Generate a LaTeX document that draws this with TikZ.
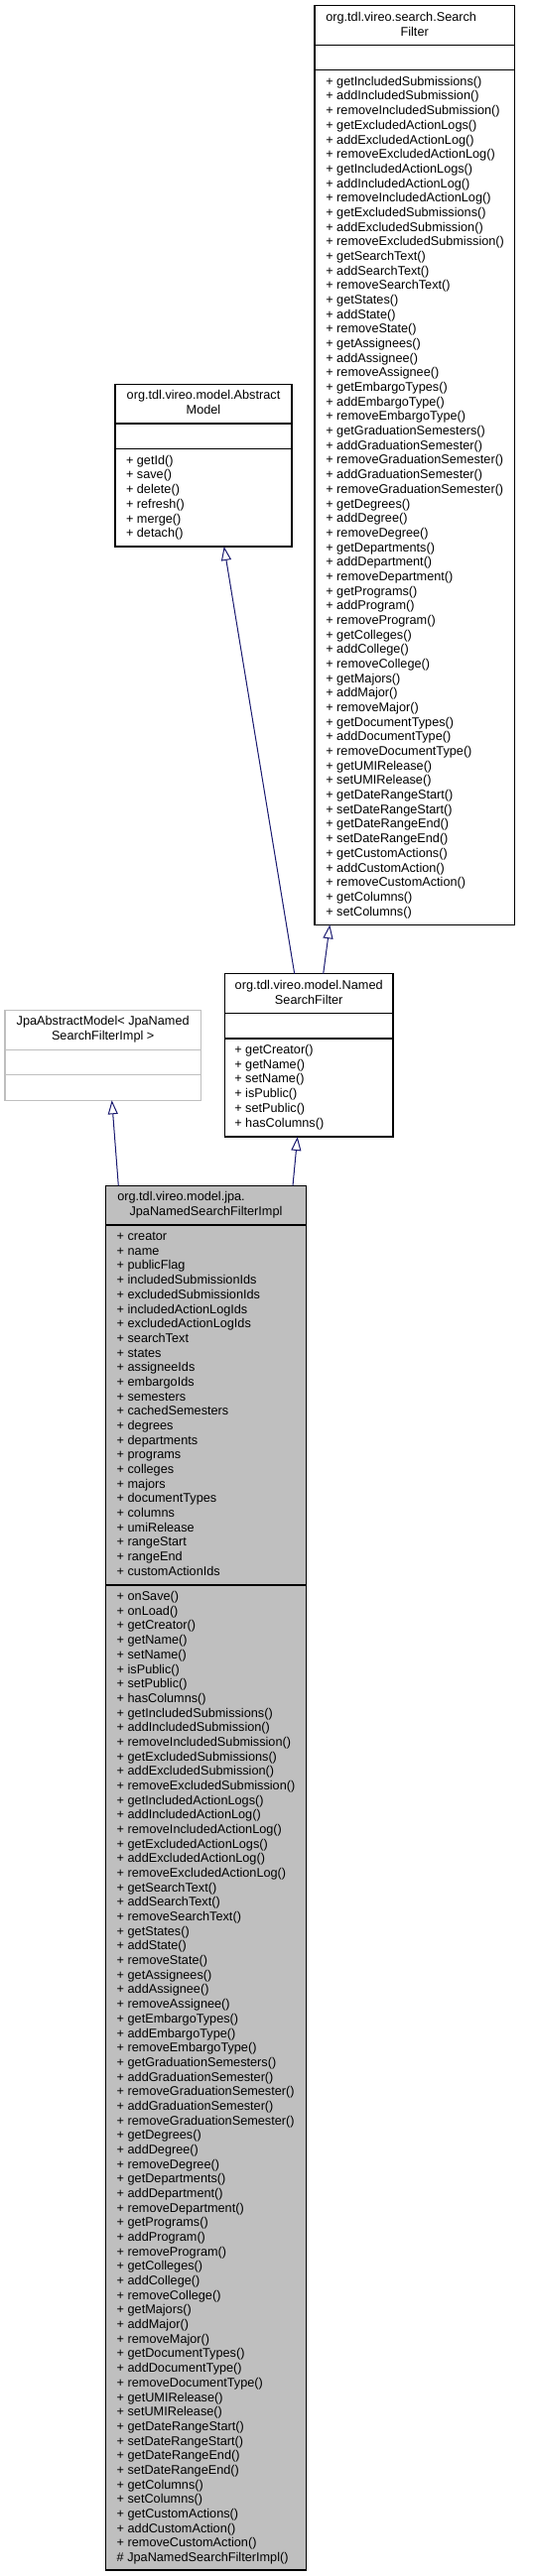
\documentclass[tikz,border=0pt]{standalone}
\usepackage{fontspec}
\setmainfont{Liberation Sans}
\usetikzlibrary{arrows.meta}
\definecolor{edgeblue}{HTML}{191970}
\definecolor{implgray}{HTML}{BFBFBF}
\definecolor{lightframe}{HTML}{BFBFBF}
\begin{document}
\begin{tikzpicture}[x=1pt,y=-1pt,
  font=\fontsize{12.7}{14.68}\selectfont,
  box/.style={draw=black,line width=1.2pt,inner sep=0pt,outer sep=0pt},
  greybox/.style={draw=lightframe,line width=1.2pt,inner sep=0pt,outer sep=0pt},
  sepline/.style={draw=black,line width=1.2pt},
  greysep/.style={draw=lightframe,line width=1.2pt},
  txt/.style={anchor=base west,inner sep=0pt,outer sep=0pt},
  ttl/.style={anchor=base,inner sep=0pt,outer sep=0pt},
  inh/.style={draw=edgeblue,line width=1pt,-{Triangle[open,length=14pt,width=10pt]}}]
\useasboundingbox (0,0) rectangle (537,2597);
\fill[white] (0,0) rectangle (537,2597);

% ---------- boxes ----------
\node[box,minimum width=201.3pt,minimum height=926.6pt] (sf) at (417.65,469) {};
\node[box,minimum width=178pt,minimum height=163.7pt] (am) at (205,469.15) {};
\node[box,minimum width=169.7pt,minimum height=164.3pt] (nsf) at (311.15,1063.85) {};
\node[greybox,minimum width=197.3pt,minimum height=91pt] (jam) at (103.65,1063.8) {};
\node[box,fill=implgray,minimum width=201.6pt,minimum height=1395.7pt] (impl) at (207.5,1893.15) {};

% ---------- separators ----------
\draw[sepline] (sf.west |- 0,45.7) -- (sf.east |- 0,45.7);
\draw[sepline] (sf.west |- 0,70.7) -- (sf.east |- 0,70.7);
\draw[sepline] (am.west |- 0,427) -- (am.east |- 0,427);
\draw[sepline] (am.west |- 0,452.7) -- (am.east |- 0,452.7);
\draw[sepline] (nsf.west |- 0,1021.7) -- (nsf.east |- 0,1021.7);
\draw[sepline] (nsf.west |- 0,1047) -- (nsf.east |- 0,1047);
\draw[greysep] (jam.west |- 0,1058.3) -- (jam.east |- 0,1058.3);
\draw[greysep] (jam.west |- 0,1083.7) -- (jam.east |- 0,1083.7);
\draw[sepline] (impl.west |- 0,1235) -- (impl.east |- 0,1235);
\draw[sepline] (impl.west |- 0,1598) -- (impl.east |- 0,1598);

% ---------- titles ----------
\node[txt] (sft1) at (328.3,21.3) {org.tdl.vireo.search.Search};
\node[ttl] (sft2) at (417.7,36.2) {Filter};
\node[ttl] (amt1) at (205,402.9) {org.tdl.vireo.model.Abstract};
\node[ttl] (amt2) at (205,417.6) {Model};
\node[ttl] (nsft1) at (311.2,997.3) {org.tdl.vireo.model.Named};
\node[ttl] (nsft2) at (311.2,1012) {SearchFilter};
\node[ttl] (jamt1) at (103.7,1033.9) {JpaAbstractModel< JpaNamed};
\node[ttl] (jamt2) at (103.7,1048.6) {SearchFilterImpl >};
\node[txt] (implt1) at (118.3,1210.9) {org.tdl.vireo.model.jpa.};
\node[ttl] (implt2) at (207.5,1225.6) {JpaNamedSearchFilterImpl};

% ---------- SearchFilter methods ----------
\foreach \t [count=\i] in {getIncludedSubmissions,addIncludedSubmission,removeIncludedSubmission,getExcludedActionLogs,addExcludedActionLog,removeExcludedActionLog,getIncludedActionLogs,addIncludedActionLog,removeIncludedActionLog,getExcludedSubmissions,addExcludedSubmission,removeExcludedSubmission,getSearchText,addSearchText,removeSearchText,getStates,addState,removeState,getAssignees,addAssignee,removeAssignee,getEmbargoTypes,addEmbargoType,removeEmbargoType,getGraduationSemesters,addGraduationSemester,removeGraduationSemester,addGraduationSemester,removeGraduationSemester,getDegrees,addDegree,removeDegree,getDepartments,addDepartment,removeDepartment,getPrograms,addProgram,removeProgram,getColleges,addCollege,removeCollege,getMajors,addMajor,removeMajor,getDocumentTypes,addDocumentType,removeDocumentType,getUMIRelease,setUMIRelease,getDateRangeStart,setDateRangeStart,getDateRangeEnd,setDateRangeEnd,getCustomActions,addCustomAction,removeCustomAction,getColumns,setColumns}
  \node[txt] (sfm\i) at (328.3,{86.3+(\i-1)*14.68}) {+ \t()};

% ---------- AbstractModel methods ----------
\foreach \t [count=\i] in {getId,save,delete,refresh,merge,detach}
  \node[txt] (amm\i) at (127,{468.3+(\i-1)*14.68}) {+ \t()};

% ---------- NamedSearchFilter methods ----------
\foreach \t [count=\i] in {getCreator,getName,setName,isPublic,setPublic,hasColumns}
  \node[txt] (nsfm\i) at (236.3,{1062.6+(\i-1)*14.68}) {+ \t()};

% ---------- Impl attributes ----------
\foreach \t [count=\i] in {creator,name,publicFlag,includedSubmissionIds,excludedSubmissionIds,includedActionLogIds,excludedActionLogIds,searchText,states,assigneeIds,embargoIds,semesters,cachedSemesters,degrees,departments,programs,colleges,majors,documentTypes,columns,umiRelease,rangeStart,rangeEnd,customActionIds}
  \node[txt] (impla\i) at (117.7,{1250.6+(\i-1)*14.68}) {+ \t};

% ---------- Impl methods ----------
\foreach \t [count=\i] in {onSave,onLoad,getCreator,getName,setName,isPublic,setPublic,hasColumns,getIncludedSubmissions,addIncludedSubmission,removeIncludedSubmission,getExcludedSubmissions,addExcludedSubmission,removeExcludedSubmission,getIncludedActionLogs,addIncludedActionLog,removeIncludedActionLog,getExcludedActionLogs,addExcludedActionLog,removeExcludedActionLog,getSearchText,addSearchText,removeSearchText,getStates,addState,removeState,getAssignees,addAssignee,removeAssignee,getEmbargoTypes,addEmbargoType,removeEmbargoType,getGraduationSemesters,addGraduationSemester,removeGraduationSemester,addGraduationSemester,removeGraduationSemester,getDegrees,addDegree,removeDegree,getDepartments,addDepartment,removeDepartment,getPrograms,addProgram,removeProgram,getColleges,addCollege,removeCollege,getMajors,addMajor,removeMajor,getDocumentTypes,addDocumentType,removeDocumentType,getUMIRelease,setUMIRelease,getDateRangeStart,setDateRangeStart,getDateRangeEnd,setDateRangeEnd,getColumns,setColumns,getCustomActions,addCustomAction,removeCustomAction}
  \node[txt] (implm\i) at (117.7,{1613.6+(\i-1)*14.68}) {+ \t()};
\node[txt] (implctor) at (117.7,{1613.6+66*14.68}) {\# JpaNamedSearchFilterImpl()};

% ---------- inheritance connectors ----------
\draw[inh] ([xshift=70.4pt]nsf.north west) -- ([xshift=109.7pt]am.south west);
\draw[inh] ([xshift=99.4pt]nsf.north west) -- ([xshift=15.3pt]sf.south west);
\draw[inh] ([xshift=12.6pt]impl.north west) -- ([xshift=107.7pt]jam.south west);
\draw[inh] ([xshift=188.3pt]impl.north west) -- ([xshift=73.4pt]nsf.south west);
\end{tikzpicture}
\end{document}
